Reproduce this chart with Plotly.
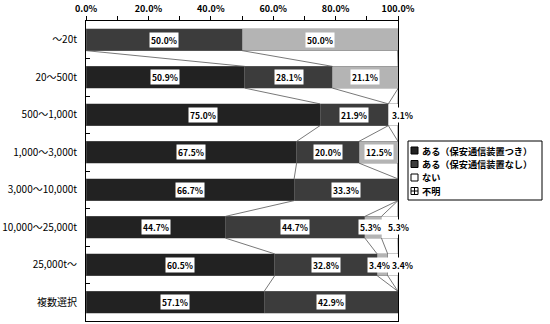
import plotly.graph_objects as go

# ---- data ----
categories = ["～20t", "20～500t", "500～1,000t", "1,000～3,000t", "3,000～10,000t",
              "10,000～25,000t", "25,000t～", "複数選択"]
series_names = ["ある（保安通信装置つき）", "ある（保安通信装置なし）", "ない", "不明"]
with_device = [0.0, 50.9, 75.0, 67.5, 66.7, 44.7, 60.5, 57.1]
without_device = [50.0, 28.1, 21.9, 20.0, 33.3, 44.7, 32.8, 42.9]
none_ = [50.0, 21.1, 0.0, 12.5, 0.0, 5.3, 3.4, 0.0]
unknown = [0.0, 0.0, 3.1, 0.0, 0.0, 5.3, 3.4, 0.0]
x_ticks = [0, 10, 20, 30, 40, 50, 60, 70, 80, 90, 100]
x_tick_labels = ["0.0%", "", "20.0%", "", "40.0%", "", "60.0%", "", "80.0%", "", "100.0%"]

series = [with_device, without_device, none_, unknown]
fills = ["#222222", "#3c3c3c", "#b4b4b4", "#ffffff"]

W, H = 550, 324
L, R, T, B = 86, 152, 21, 3
PW = W - L - R
PH = H - T - B
BAR_W = 0.58
JP = "Noto Sans CJK JP"

pos = list(range(len(categories)))
fig = go.Figure()

for name, vals, col in zip(series_names, series, fills):
    fig.add_trace(go.Bar(
        x=vals, y=pos, orientation="h", name=name, width=BAR_W,
        marker=dict(color=col, line=dict(color="#777777", width=0.4)),
        showlegend=False, hoverinfo="skip",
    ))

# series lines connecting segment ends between neighbouring bars
cum = []
run = [0.0] * len(categories)
for vals in series:
    run = [a + b for a, b in zip(run, vals)]
    cum.append(run[:])
hw = BAR_W / 2
for c in cum:
    for i in range(len(categories) - 1):
        fig.add_trace(go.Scatter(
            x=[c[i], c[i + 1]], y=[i + hw, i + 1 - hw], mode="lines",
            line=dict(color="#555555", width=0.8), showlegend=False, hoverinfo="skip",
        ))

# value labels in white boxes; narrow neighbours are nudged apart
annotations = []
for k, vals in enumerate(series):
    start = [0.0] * len(categories) if k == 0 else cum[k - 1]
    for i, v in enumerate(vals):
        if v <= 0:
            continue
        xc = start[i] + v / 2
        shift = 0
        if k == 3 and v < 6:
            shift = 9
        elif k == 2 and v < 6 and unknown[i] > 0:
            shift = -3
        annotations.append(dict(
            x=xc, y=i, xref="x", yref="y", text=f"{v:.1f}%", showarrow=False,
            font=dict(family=JP, size=8.5, color="black", weight="bold"),
            bgcolor="white", borderpad=1, xshift=shift,
        ))

# legend drawn as boxes and labels
def px_x(px):
    return (px - L) / PW

def px_y(py):
    return 1 - (py - T) / PH

shapes = [dict(type="rect", xref="paper", yref="paper",
               x0=px_x(408), x1=px_x(542), y0=px_y(141), y1=px_y(200),
               line=dict(color="black", width=1), fillcolor="white", layer="above")]
leg_y = [150.5, 164, 177.5, 191]
leg_fill = ["#222222", "#3c3c3c", "#ffffff", "#ffffff"]
for name, yy, col in zip(series_names, leg_y, leg_fill):
    shapes.append(dict(type="rect", xref="paper", yref="paper",
                       x0=px_x(411), x1=px_x(418), y0=px_y(yy + 3.5), y1=px_y(yy - 3.5),
                       line=dict(color="black", width=1), fillcolor=col, layer="above"))
    annotations.append(dict(x=px_x(420), y=px_y(yy), xref="paper", yref="paper",
                            text=name, showarrow=False, xanchor="left", yanchor="middle",
                            font=dict(family=JP, size=9.2, color="black", weight="bold")))
# grid mark inside the 不明 legend box
shapes.append(dict(type="line", xref="paper", yref="paper",
                   x0=px_x(414.5), x1=px_x(414.5), y0=px_y(leg_y[3] + 3.5), y1=px_y(leg_y[3] - 3.5),
                   line=dict(color="black", width=1), layer="above"))
shapes.append(dict(type="line", xref="paper", yref="paper",
                   x0=px_x(411), x1=px_x(418), y0=px_y(leg_y[3]), y1=px_y(leg_y[3]),
                   line=dict(color="black", width=1), layer="above"))

fig.update_layout(
    width=W, height=H, barmode="stack",
    margin=dict(l=L, r=R, t=T, b=B, pad=0, autoexpand=False),
    paper_bgcolor="white", plot_bgcolor="white",
    annotations=annotations, shapes=shapes,
    showlegend=False,
)
fig.update_xaxes(
    side="top", range=[0, 100], tickvals=x_ticks, ticktext=x_tick_labels,
    ticks="outside", ticklen=4, tickcolor="black", automargin=False,
    showgrid=False, zeroline=False, showline=True, linecolor="black", linewidth=1, mirror=True,
    tickfont=dict(family=JP, size=9, color="black", weight="bold"),
)
fig.update_yaxes(
    range=[len(categories) - 0.5, -0.5], tickvals=pos, ticktext=categories,
    ticks="", showgrid=False, zeroline=False, automargin=False,
    showline=True, linecolor="black", linewidth=1, mirror=True,
    tickfont=dict(family=JP, size=10, color="black"),
    minor=dict(tickvals=[p + 0.5 for p in pos[:-1]], ticks="inside", ticklen=4, tickcolor="black"),
    ticklabelstandoff=6,
)

fig.write_html("out.html")
